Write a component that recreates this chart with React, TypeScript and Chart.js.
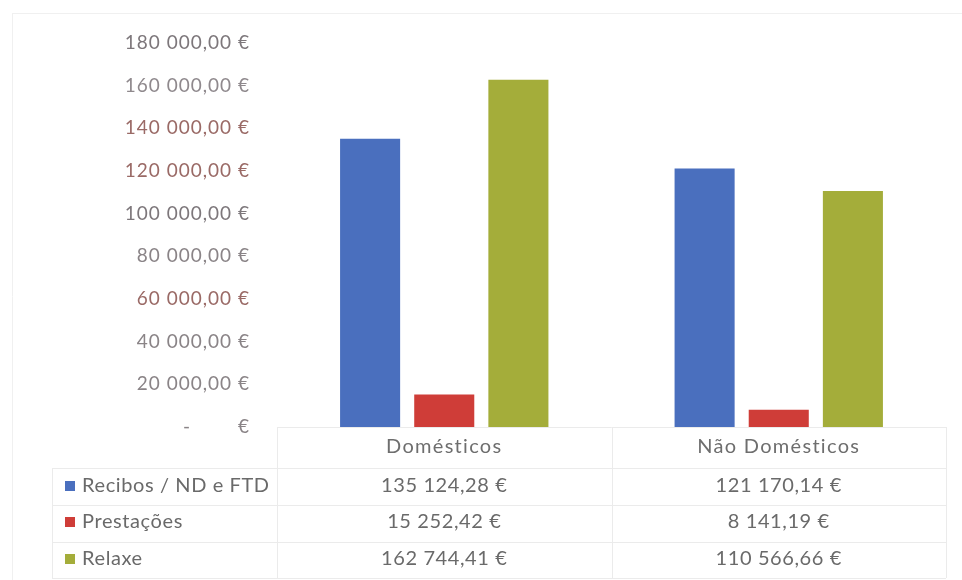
import React, { useEffect, useRef } from "react";
import { Chart, registerables } from "chart.js";

Chart.register(...registerables);

const categories = ["Domésticos", "Não Domésticos"];
const seriesNames = ["Recibos / ND e FTD", "Prestações", "Relaxe"];
const recibos = [135124.28, 121170.14];
const prestacoes = [15252.42, 8141.19];
const relaxe = [162744.41, 110566.66];
const seriesColors = ["#4a6fbe", "#cf3d38", "#a4ad3a"];
const tickColors: Record<number, string> = {
  180000: "#7d777b",
  160000: "#8f898d",
  140000: "#9a6a66",
  120000: "#9a6a66",
  100000: "#7d777b",
  80000: "#8a8487",
  60000: "#9a6a66",
  40000: "#8a8487",
  20000: "#8a8487",
  0: "#8a8487",
};

const FONT = "Lato, 'Open Sans', sans-serif";

function fmtEuro(v: number): string {
  if (v === 0) return "-        €";
  const fixed = v.toFixed(2);
  const [intPart, dec] = fixed.split(".");
  const withSpaces = intPart.replace(/\B(?=(\d{3})+(?!\d))/g, " ");
  return `${withSpaces},${dec} €`;
}

const spacingPlugin = {
  id: "spacing",
  beforeDraw(chart: any) {
    (chart.ctx as any).letterSpacing = "1px";
  },
};

const tablePlugin = {
  id: "dataTable",
  afterDraw(chart: any) {
    const ctx = chart.ctx;
    const area = chart.chartArea;
    const xs = chart.scales.x;
    const left = 52;
    const right = area.right;
    const base = area.bottom;
    const rowLines = [468, 505, 542, 578];
    ctx.save();
    ctx.strokeStyle = "#f0f0f0";
    ctx.lineWidth = 1;
    ctx.beginPath();
    ctx.moveTo(12, 13.5);
    ctx.lineTo(962, 13.5);
    ctx.moveTo(12.5, 13);
    ctx.lineTo(12.5, 580);
    ctx.stroke();

    ctx.strokeStyle = "#ebebeb";
    ctx.beginPath();
    ctx.moveTo(area.left, base + 0.5);
    ctx.lineTo(right, base + 0.5);
    for (const y of rowLines) {
      ctx.moveTo(left, y + 0.5);
      ctx.lineTo(right, y + 0.5);
    }
    const cw = (xs.right - xs.left) / categories.length;
    const vlines = [area.left, area.left + cw, right];
    for (const x of vlines) {
      ctx.moveTo(Math.round(x) + 0.5, base);
      ctx.lineTo(Math.round(x) + 0.5, rowLines[rowLines.length - 1]);
    }
    ctx.moveTo(left + 0.5, rowLines[0]);
    ctx.lineTo(left + 0.5, rowLines[rowLines.length - 1]);
    ctx.stroke();

    ctx.textBaseline = "middle";
    ctx.font = `20px ${FONT}`;
    ctx.fillStyle = "#6e6e6e";
    ctx.textAlign = "center";
    ctx.letterSpacing = "1.3px";
    categories.forEach((c, i) => {
      ctx.fillText(c, xs.getPixelForValue(i), 447);
    });

    ctx.letterSpacing = "0.6px";
    const rowsY = [486, 522, 559];
    const datasets = chart.data.datasets;
    datasets.forEach((ds: any, r: number) => {
      const y = rowsY[r];
      ctx.fillStyle = ds.backgroundColor;
      ctx.fillRect(65, y - 5, 10, 10);
      ctx.fillStyle = "#6a6a6a";
      ctx.textAlign = "left";
      ctx.fillText(ds.label, 82, y);
      ctx.textAlign = "center";
      ds.data.forEach((v: number, i: number) => {
        ctx.fillText(fmtEuro(v), xs.getPixelForValue(i), y);
      });
    });
    ctx.restore();
  },
};

export default function App() {
  const ref = useRef<HTMLCanvasElement | null>(null);
  useEffect(() => {
    document.body.style.margin = "0";
    const canvas = ref.current!;
    const chart = new Chart(canvas, {
      type: "bar",
      data: {
        labels: categories,
        datasets: [
          { label: seriesNames[0], data: recibos, backgroundColor: seriesColors[0] },
          { label: seriesNames[1], data: prestacoes, backgroundColor: seriesColors[1] },
          { label: seriesNames[2], data: relaxe, backgroundColor: seriesColors[2] },
        ],
      },
      options: {
        responsive: false,
        animation: false,
        devicePixelRatio: 1,
        layout: { padding: { top: 43, right: 16, left: 0, bottom: 0 } },
        datasets: { bar: { categoryPercentage: 0.665, barPercentage: 0.81 } },
        plugins: { legend: { display: false }, tooltip: { enabled: false } },
        scales: {
          x: {
            grid: { display: false },
            border: { display: false },
            ticks: { display: false },
            afterFit: (s: any) => {
              s.height = 153;
            },
          },
          y: {
            min: 0,
            max: 180000,
            grid: { display: false, drawTicks: false },
            border: { display: false },
            ticks: {
              stepSize: 20000,
              padding: 27,
              font: { family: FONT, size: 19 },
              color: (c: any) => tickColors[c.tick.value] || "#8a8487",
              callback: (v: any) => fmtEuro(Number(v)),
            },
            afterFit: (s: any) => {
              s.width = 277;
            },
          },
        },
      },
      plugins: [spacingPlugin, tablePlugin],
    });
    return () => chart.destroy();
  }, []);
  return <canvas ref={ref} width={962} height={580} style={{ display: "block" }} />;
}
